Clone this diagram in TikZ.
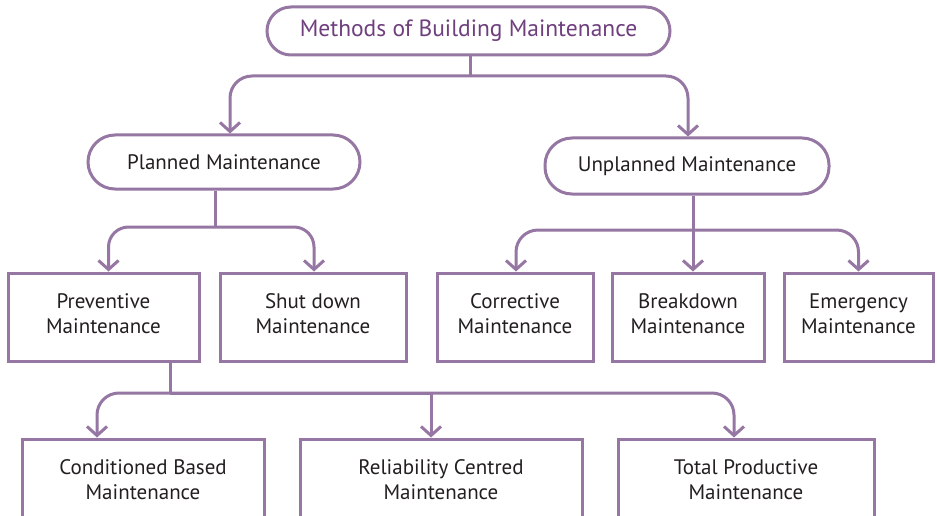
\documentclass[tikz,border=0pt]{standalone}
\usepackage{fontspec}
\setmainfont{PT Sans}
\usetikzlibrary{arrows.meta}
\definecolor{lin}{RGB}{150,118,162}
\definecolor{ttl}{RGB}{110,62,125}
\definecolor{txt}{RGB}{35,31,32}
\begin{document}
\begin{tikzpicture}[x=1pt,y=-1pt,
  base/.style={draw=lin, line width=3pt, text=txt, align=center, inner sep=0pt,
    font=\fontsize{21}{25}\selectfont},
  pill/.style={base, rounded corners=#1},
  boxx/.style={base},
  inlbl/.style={base, draw=none, yshift=3pt},
  conn/.style={draw=lin, line width=3pt},
  arr/.style={conn, -{Straight Barb[length=9pt,width=20pt,line width=3pt]}},
]
\useasboundingbox (0,0) rectangle (937,516);
\begin{scope}
\clip (0,0) rectangle (937,516);
\node[pill=24pt, minimum width=403pt, minimum height=48pt, text=ttl,
  font=\fontsize{23.5}{25}\selectfont] (top) at (468.5,31) {Methods of Building Maintenance};
\node[pill=27pt, minimum width=272pt, minimum height=54pt] (plan) at (224,162) {Planned Maintenance};
\node[pill=27pt, minimum width=284pt, minimum height=56pt] (unpl) at (687,166) {Unplanned Maintenance};

\node[boxx, minimum width=191pt, minimum height=88pt, label={[inlbl]center:{Preventive\\Maintenance}}] (prev) at (103.5,317) {};
\node[boxx, minimum width=186pt, minimum height=88pt, label={[inlbl]center:{Shut down\\Maintenance}}] (shut) at (313,317) {};
\node[boxx, minimum width=156pt, minimum height=88pt, label={[inlbl]center:{Corrective\\Maintenance}}] (corr) at (515,317) {};
\node[boxx, minimum width=152pt, minimum height=88pt, label={[inlbl]center:{Breakdown\\Maintenance}}] (brk) at (688,317) {};
\node[boxx, minimum width=149pt, minimum height=88pt, label={[inlbl]center:{Emergency\\Maintenance}}] (emer) at (858.5,317) {};

\node[boxx, minimum width=242pt, minimum height=82pt] (cond) at (143,480) {Conditioned Based\\Maintenance};
\node[boxx, minimum width=282pt, minimum height=82pt] (rel) at (441,480) {Reliability Centred\\Maintenance};
\node[boxx, minimum width=256pt, minimum height=82pt] (tot) at (746,480) {Total Productive\\Maintenance};

% level 1
\coordinate (j1) at (470,76);
\draw[conn] (top.south -| j1) -- (j1);
\draw[arr, rounded corners=22pt] (j1) -| ([xshift=6pt]plan.north);
\draw[arr, rounded corners=22pt] (j1) -| ([xshift=1pt]unpl.north);

% planned
\coordinate (j2) at (215,227);
\draw[conn] (plan.south -| j2) -- (j2);
\draw[arr, rounded corners=20pt] (j2) -| ([xshift=5pt]prev.north);
\draw[arr, rounded corners=20pt] (j2) -| ([xshift=1pt]shut.north);

% unplanned
\coordinate (j3) at (693,230);
\draw[arr] (unpl.south -| j3) -- (brk.north -| j3);
\draw[arr, rounded corners=22pt] (j3) -| ([xshift=1pt]corr.north);
\draw[arr, rounded corners=22pt] (j3) -| (emer.north);

% preventive
\coordinate (j4) at (170,393);
\draw[conn] (prev.south -| j4) -- (j4);
\draw[arr, rounded corners=22pt] (j4) -| ([xshift=-46pt]cond.north);
\draw[arr] (j4) -| ([xshift=-10pt]rel.north);
\draw[arr, rounded corners=22pt] (j4) -| ([xshift=-12pt]tot.north);
\end{scope}
\end{tikzpicture}
\end{document}
